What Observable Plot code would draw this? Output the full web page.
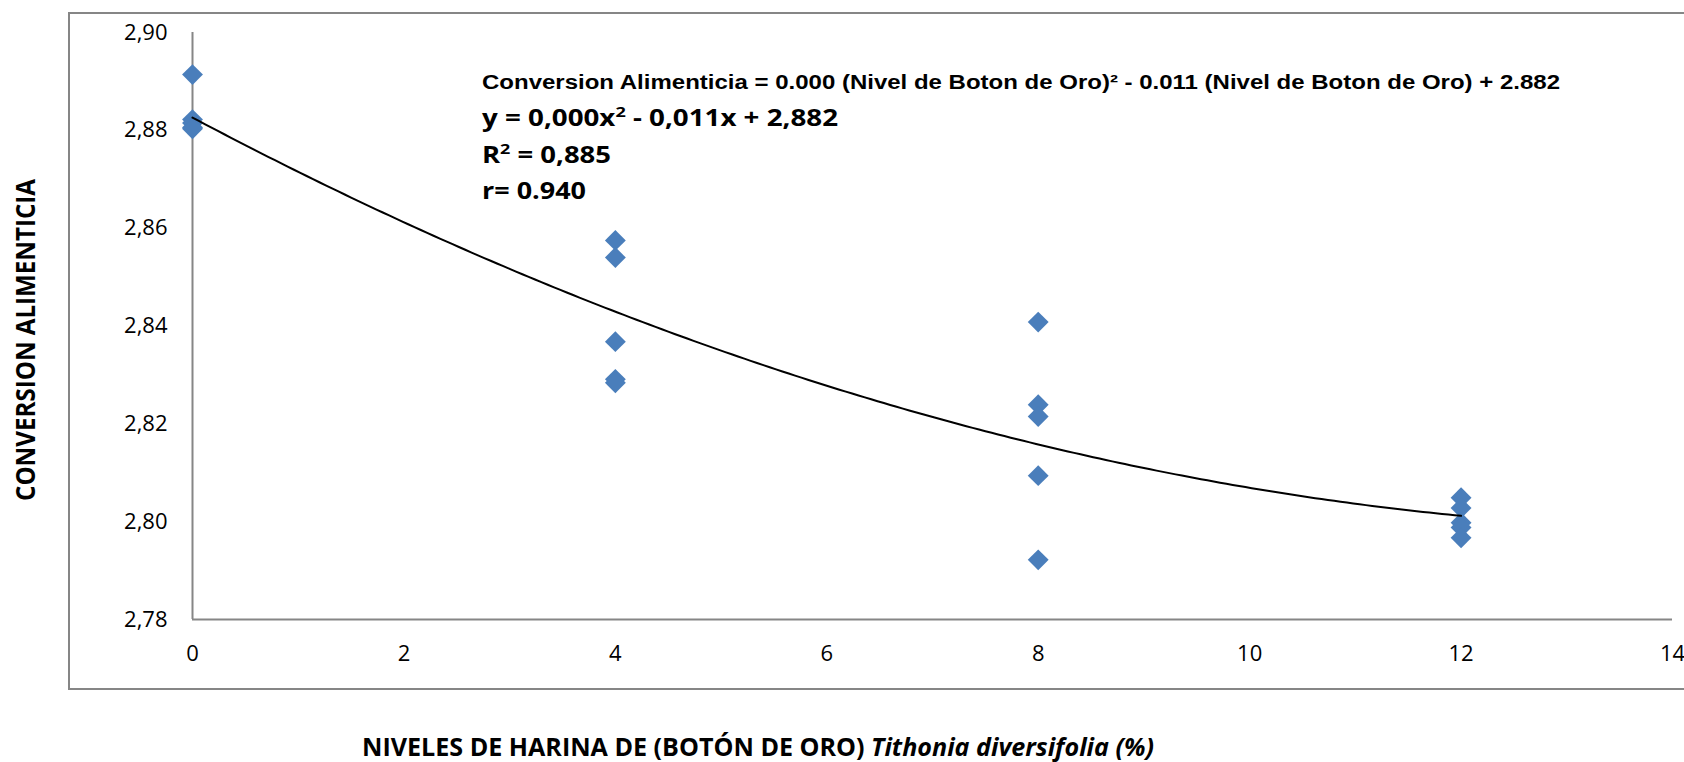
<!DOCTYPE html>
<html>
<head>
<meta charset="utf-8">
<script src="https://cdn.jsdelivr.net/npm/d3@7"></script>
<script src="https://cdn.jsdelivr.net/npm/@observablehq/plot@0.6"></script>
<style>
  html, body { margin: 0; padding: 0; background: #fff; }
  #chart { position: relative; width: 1684px; height: 762px; overflow: hidden; }
</style>
</head>
<body>
<div id="chart"></div>
<script>
// ---- Data ----
const nivel = [0, 0, 0, 0, 0, 4, 4, 4, 4, 4, 8, 8, 8, 8, 8, 12, 12, 12, 12, 12];
const conversion = [
  2.8914, 2.8822, 2.8815, 2.8806, 2.8803,
  2.8575, 2.8540, 2.8368, 2.8291, 2.8284,
  2.8408, 2.8239, 2.8215, 2.8094, 2.7922,
  2.8049, 2.8028, 2.7998, 2.7988, 2.7967
];
const xTicks = [0, 2, 4, 6, 8, 10, 12, 14];
const yTicks = [2.78, 2.80, 2.82, 2.84, 2.86, 2.88, 2.90];
const yTickLabels = ["2,78", "2,80", "2,82", "2,84", "2,86", "2,88", "2,90"];
const xTitle = "NIVELES DE HARINA DE (BOTÓN DE ORO) ";
const xTitleItalic = "Tithonia diversifolia (%)";
const yTitle = "CONVERSION ALIMENTICIA";
const eqLine1 = "Conversion Alimenticia = 0.000 (Nivel de Boton de Oro)² - 0.011 (Nivel de Boton de Oro) + 2.882";
const eqLine2 = ["y = 0,000x", "2", " - 0,011x + 2,882"];
const eqLine3 = ["R", "2", " = 0,885"];
const eqLine4 = "r= 0.940";

const points = nivel.map((x, i) => ({x, y: conversion[i]}));

// ---- Quadratic least-squares fit of the data (trend line) ----
function polyFit2(xs, ys) {
  const S = (f) => d3.sum(xs.map((x, i) => f(x, ys[i])));
  const A = [
    [S(x => 1), S(x => x), S(x => x * x)],
    [S(x => x), S(x => x * x), S(x => x ** 3)],
    [S(x => x * x), S(x => x ** 3), S(x => x ** 4)]
  ];
  const b = [S((x, y) => y), S((x, y) => x * y), S((x, y) => x * x * y)];
  const n = 3;
  for (let i = 0; i < n; i++) {
    let p = i;
    for (let r = i + 1; r < n; r++) if (Math.abs(A[r][i]) > Math.abs(A[p][i])) p = r;
    [A[i], A[p]] = [A[p], A[i]]; [b[i], b[p]] = [b[p], b[i]];
    for (let r = i + 1; r < n; r++) {
      const f = A[r][i] / A[i][i];
      for (let c = i; c < n; c++) A[r][c] -= f * A[i][c];
      b[r] -= f * b[i];
    }
  }
  const c = [0, 0, 0];
  for (let i = n - 1; i >= 0; i--) {
    let s = b[i];
    for (let k = i + 1; k < n; k++) s -= A[i][k] * c[k];
    c[i] = s / A[i][i];
  }
  return c; // c0 + c1 x + c2 x^2
}
const coef = polyFit2(nivel, conversion);
const xmin = d3.min(nivel), xmax = d3.max(nivel);
const fitLine = d3.range(xmin, xmax + 1e-9, (xmax - xmin) / 200)
  .map(x => ({x, y: coef[0] + coef[1] * x + coef[2] * x * x}));

// ---- Chart ----
const axisGrey = "#868686";
const chart = Plot.plot({
  width: 1684,
  height: 762,
  marginLeft: 192,
  marginRight: 12,
  marginTop: 32,
  marginBottom: 143,
  style: {fontFamily: "'Open Sans', sans-serif", fontSize: "22px", color: "#000", background: "#fff", overflow: "visible"},
  x: {domain: [0, 14], ticks: xTicks, tickSize: 0, tickPadding: 26, label: null},
  y: {domain: [2.78, 2.90], ticks: yTicks, tickFormat: d => yTickLabels[yTicks.findIndex(t => Math.abs(t - d) < 1e-9)], tickSize: 0, tickPadding: 25, label: null},
  marks: [
    Plot.ruleY([2.78], {x1: 0, x2: 14, stroke: axisGrey, strokeWidth: 2}),
    Plot.ruleX([0], {y1: 2.78, y2: 2.90, stroke: axisGrey, strokeWidth: 2}),
    Plot.dot(points, {x: "x", y: "y", symbol: "diamond2", r: 9.4, fill: "#4A7EBB", stroke: "none"}),
    Plot.line(fitLine, {x: "x", y: "y", stroke: "#000", strokeWidth: 2, curve: "linear"})
  ]
});
document.getElementById("chart").appendChild(chart);

// ---- Extra text and the outer frame ----
const svg = d3.select(chart);
svg.insert("rect", ":first-child")
  .attr("x", 69).attr("y", 13).attr("width", 1700).attr("height", 676)
  .attr("fill", "none").attr("stroke", axisGrey).attr("stroke-width", 2);

const boldFont = "'Open Sans', sans-serif";
const ann = svg.append("g").attr("text-anchor", "start").attr("fill", "#000");

// y-axis title
ann.append("text")
  .attr("transform", "translate(35,340) rotate(-90)")
  .attr("text-anchor", "middle")
  .attr("font-family", boldFont).attr("font-weight", "bold").attr("font-size", 26)
  .attr("textLength", 322).attr("lengthAdjust", "spacingAndGlyphs")
  .text(yTitle);

// x-axis title
const xt = ann.append("text")
  .attr("x", 362).attr("y", 756)
  .attr("text-anchor", "start")
  .attr("font-family", boldFont).attr("font-weight", "bold").attr("font-size", 25)
  .attr("textLength", 792).attr("lengthAdjust", "spacingAndGlyphs");
xt.append("tspan").text(xTitle);
xt.append("tspan").attr("font-style", "italic").text(xTitleItalic);

// equation annotations
ann.append("text")
  .attr("x", 482).attr("y", 89)
  .attr("text-anchor", "start")
  .attr("font-family", "'Liberation Sans', Arial, sans-serif").attr("font-weight", "bold").attr("font-size", 19.5)
  .attr("textLength", 1078).attr("lengthAdjust", "spacingAndGlyphs")
  .text(eqLine1);

function supLine(parts, y, len) {
  const t = ann.append("text")
    .attr("x", 482).attr("y", y)
    .attr("text-anchor", "start")
    .attr("font-family", boldFont).attr("font-weight", "bold").attr("font-size", 23)
    .attr("textLength", len).attr("lengthAdjust", "spacingAndGlyphs");
  t.append("tspan").text(parts[0]);
  t.append("tspan").attr("font-size", 15).attr("dy", -9).text(parts[1]);
  t.append("tspan").attr("dy", 9).text(parts[2]);
}
supLine(eqLine2, 126, 356);
supLine(eqLine3, 163, 129);
ann.append("text")
  .attr("x", 482).attr("y", 199)
  .attr("text-anchor", "start")
  .attr("font-family", boldFont).attr("font-weight", "bold").attr("font-size", 23)
  .attr("textLength", 104).attr("lengthAdjust", "spacingAndGlyphs")
  .text(eqLine4);
</script>
</body>
</html>
